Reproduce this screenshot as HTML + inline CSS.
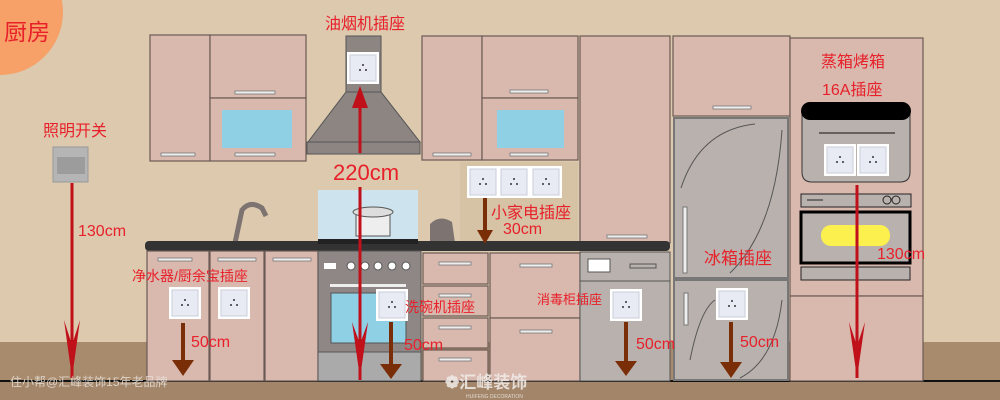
<!DOCTYPE html>
<html><head><meta charset="utf-8"><style>
html,body{margin:0;padding:0;width:1000px;height:400px;overflow:hidden;background:#dcc9ae}
text{font-family:"Liberation Sans","Noto Sans CJK SC",sans-serif}
</style></head><body>
<svg width="1000" height="400" viewBox="0 0 1000 400" xmlns="http://www.w3.org/2000/svg">
<defs>
<g id="sk"><rect x="0" y="0" width="32" height="32" fill="#fff"/><rect x="3" y="3" width="26" height="26" fill="#e8ebf3" stroke="#c8ccd8"/><circle cx="16" cy="13" r="1" fill="#333"/><circle cx="13" cy="18" r="1" fill="#333"/><circle cx="19" cy="18" r="1" fill="#333"/></g>
</defs>
<rect width="1000" height="400" fill="#dcc9ae"/>
<rect x="0" y="342" width="1000" height="58" fill="#a88b6d"/>
<rect x="0" y="381" width="1000" height="19" fill="#a3866a"/>
<line x1="0" y1="381" x2="1000" y2="381" stroke="#111" stroke-width="2"/>
<circle cx="0" cy="12" r="63" fill="#f7a068"/>
<text x="4" y="40" font-size="23" fill="#e8202a">厨房</text>

<g fill="#d9b8ae" stroke="#6b5a55" stroke-width="1.2">
<rect x="150" y="35" width="60" height="126"/>
<rect x="210" y="35" width="96" height="63"/>
<rect x="210" y="98" width="96" height="63"/>
<rect x="422" y="36" width="60" height="124"/>
<rect x="482" y="36" width="96" height="62"/>
<rect x="482" y="98" width="96" height="62"/>
<rect x="580" y="36" width="90" height="207"/>
<rect x="673" y="36" width="117" height="80"/>
<rect x="790" y="38" width="133" height="258"/>
<rect x="790" y="296" width="133" height="85"/>
</g>
<rect x="222" y="110" width="70" height="38" fill="#8fd0e4"/>
<rect x="497" y="110" width="67" height="38" fill="#8fd0e4"/>
<g fill="#eee" stroke="#777" stroke-width="0.8">
<rect x="161" y="153" width="34" height="3"/><rect x="235" y="91" width="40" height="3"/><rect x="235" y="153" width="40" height="3"/>
<rect x="433" y="153" width="38" height="3"/><rect x="510" y="90" width="38" height="3"/><rect x="510" y="153" width="38" height="3"/>
<rect x="607" y="235" width="40" height="3"/><rect x="713" y="106" width="38" height="3"/>
</g>
<rect x="346" y="36" width="35" height="56" fill="#8c8582" stroke="#555"/>
<polygon points="346,92 381,92 420,142 308,142" fill="#8c8582" stroke="#555"/>
<rect x="307" y="142" width="113" height="12" fill="#8c8582" stroke="#555"/>
<rect x="460" y="162" width="118" height="80" fill="#d6c2a5"/>
<rect x="318" y="190" width="100" height="51" fill="#cde4ef"/>
<rect x="356" y="212" width="34" height="24" fill="#eee" stroke="#555"/>
<ellipse cx="373" cy="212" rx="20" ry="5" fill="#ddd" stroke="#555"/>
<path d="M430 243 L430 224 Q440 214 452 222 L455 243Z" fill="#7d7370"/>
<path d="M235 243 L242 210 Q250 200 262 208 L266 216" fill="none" stroke="#7d7370" stroke-width="5"/>
<rect x="145" y="241" width="525" height="10" rx="4" fill="#333"/>
<rect x="318" y="239" width="100" height="5" fill="#222"/>
<g fill="#d9b8ae" stroke="#6b5a55" stroke-width="1.2">
<rect x="147" y="251" width="62" height="130"/><rect x="210" y="251" width="54" height="130"/><rect x="265" y="251" width="53" height="130"/>
<rect x="423" y="253" width="65" height="31"/><rect x="423" y="286" width="65" height="30"/><rect x="423" y="318" width="65" height="30"/><rect x="423" y="350" width="65" height="31"/>
<rect x="490" y="253" width="90" height="65"/><rect x="490" y="318" width="90" height="63"/>
</g>
<g fill="#eee" stroke="#777" stroke-width="0.8">
<rect x="158" y="258" width="34" height="3"/><rect x="218" y="258" width="38" height="3"/><rect x="273" y="258" width="38" height="3"/>
<rect x="439" y="262" width="32" height="3"/><rect x="439" y="294" width="32" height="3"/><rect x="439" y="326" width="32" height="3"/><rect x="439" y="358" width="32" height="3"/>
<rect x="520" y="264" width="32" height="3"/><rect x="520" y="330" width="32" height="3"/>
</g>
<rect x="318" y="251" width="103" height="130" fill="#8e8785" stroke="#555"/>
<rect x="324" y="263" width="12" height="6" fill="#fff"/>
<g fill="#fff" stroke="#555"><circle cx="351" cy="266" r="4"/><circle cx="365" cy="266" r="4"/><circle cx="378" cy="266" r="4"/><circle cx="392" cy="266" r="4"/><circle cx="406" cy="266" r="4"/></g>
<rect x="330" y="284" width="76" height="3" fill="#eee"/>
<rect x="331" y="293" width="75" height="50" fill="#8fd0e4" stroke="#555"/>
<rect x="318" y="352" width="103" height="29" fill="#aaa" stroke="#555"/>
<rect x="580" y="252" width="90" height="129" fill="#b9b1ad" stroke="#555"/>
<rect x="580" y="252" width="90" height="29" fill="#b9b1ad" stroke="#555"/>
<rect x="588" y="259" width="22" height="13" fill="#fff" stroke="#555"/>
<rect x="630" y="264" width="26" height="4" fill="none" stroke="#555"/>
<rect x="674" y="118" width="114" height="160" fill="#b9b1ad" stroke="#777" stroke-width="2"/>
<rect x="674" y="280" width="114" height="100" fill="#b9b1ad" stroke="#777" stroke-width="2"/>
<path d="M681 188 Q700 130 755 124 M782 130 Q775 230 730 273" fill="none" stroke="#555"/>
<path d="M690 360 Q700 310 715 300 M782 300 Q775 360 740 378" fill="none" stroke="#555"/>
<rect x="683" y="207" width="4" height="66" fill="#eee" stroke="#777"/>
<rect x="684" y="293" width="4" height="32" fill="#eee" stroke="#777"/>
<path d="M802 110 L910 110 L910 172 Q910 182 900 182 L812 182 Q802 182 802 172Z" fill="#b9b1ad" stroke="#333"/>
<rect x="801" y="102" width="110" height="18" rx="9" fill="#000"/>
<line x1="819" y1="133" x2="895" y2="133" stroke="#111"/>
<rect x="801" y="194" width="110" height="13" fill="#b9b1ad" stroke="#222"/>
<line x1="807" y1="200" x2="823" y2="200" stroke="#222"/>
<circle cx="887" cy="200" r="4" fill="none" stroke="#222"/><circle cx="896" cy="200" r="4" fill="none" stroke="#222"/>
<rect x="801" y="212" width="109" height="51" fill="#b9b1ad" stroke="#000" stroke-width="3"/>
<rect x="821" y="225" width="69" height="21" rx="10" fill="#fbf04e"/>
<rect x="801" y="267" width="109" height="13" fill="#b9b1ad" stroke="#222"/>
<rect x="53" y="147" width="35" height="35" fill="#b5b5b5" stroke="#999"/>
<rect x="57" y="157" width="28" height="17" fill="#9c9c9c"/>
<use href="#sk" x="347" y="52"/>
<use href="#sk" x="467" y="166"/><use href="#sk" x="498" y="166"/><use href="#sk" x="530" y="166"/>
<use href="#sk" x="169" y="287"/><use href="#sk" x="218" y="287"/><use href="#sk" x="376" y="289"/>
<use href="#sk" x="610" y="289"/><use href="#sk" x="716" y="288"/>
<use href="#sk" x="824" y="144"/><use href="#sk" x="857" y="144"/>
<g stroke="#c0101a" stroke-width="3" fill="#c0101a">
<line x1="72" y1="183" x2="72" y2="378"/>
<polygon points="64,320 72,345 80,320 72,378" stroke="none"/>
<line x1="360" y1="95" x2="360" y2="153"/>
<polygon points="352,108 360,86 368,108" stroke="none"/>
<line x1="360" y1="187" x2="360" y2="380"/>
<polygon points="352,322 360,344 368,322 360,378" stroke="none"/>
<line x1="857" y1="185" x2="857" y2="378"/>
<polygon points="849,322 857,346 865,322 857,378" stroke="none"/>
</g>
<g stroke="#7a2e08" stroke-width="4" fill="#7a2e08">
<line x1="183" y1="323" x2="183" y2="365"/><polygon points="172,360 183,376 194,360" stroke="none"/>
<line x1="391" y1="322" x2="391" y2="368"/><polygon points="380,364 391,379 402,364" stroke="none"/>
<line x1="485" y1="198" x2="485" y2="233"/><polygon points="477,230 485,244 493,230" stroke="none"/>
<line x1="626" y1="322" x2="626" y2="365"/><polygon points="615,361 626,376 637,361" stroke="none"/>
<line x1="731" y1="322" x2="731" y2="366"/><polygon points="720,362 731,378 742,362" stroke="none"/>
</g>
<g fill="#e8202a">
<text x="325" y="29" font-size="16">油烟机插座</text>
<text x="43" y="136" font-size="16">照明开关</text>
<text x="78" y="236" font-size="16">130cm</text>
<text x="333" y="180" font-size="22">220cm</text>
<text x="491" y="218" font-size="16">小家电插座</text>
<text x="503" y="234" font-size="16">30cm</text>
<text x="132" y="281" font-size="14">净水器/厨余宝插座</text>
<text x="191" y="347" font-size="16">50cm</text>
<text x="405" y="312" font-size="14">洗碗机插座</text>
<text x="404" y="350" font-size="16">50cm</text>
<text x="537" y="304" font-size="13">消毒柜插座</text>
<text x="636" y="349" font-size="16">50cm</text>
<text x="704" y="264" font-size="17">冰箱插座</text>
<text x="740" y="347" font-size="16">50cm</text>
<text x="821" y="67" font-size="16">蒸箱烤箱</text>
<text x="822" y="95" font-size="16">16A插座</text>
<text x="877" y="259" font-size="16">130cm</text>
</g>
<text x="10" y="386" font-size="12" fill="#e8e0d8" opacity="0.85">住小帮@汇峰装饰15年老品牌</text>
<text x="445" y="388" font-size="17" font-weight="bold" fill="#f0ece8" opacity="0.85">❁汇峰装饰</text>
<text x="466" y="398" font-size="5" fill="#f0ece8" opacity="0.8">HUIFENG DECORATION</text>
</svg>
</body></html>
